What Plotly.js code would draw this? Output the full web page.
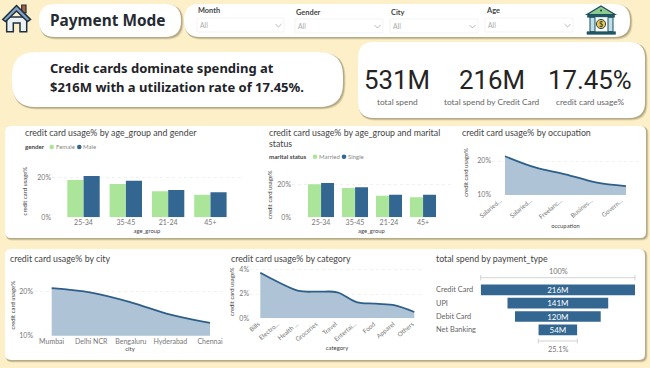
<!DOCTYPE html>
<html><head><meta charset="utf-8">
<script src="https://cdn.plot.ly/plotly-3.0.1.min.js"></script>
<style>html,body{margin:0;padding:0;background:#FDF0C9;overflow:hidden}#g{width:650px;height:368px}</style>
</head><body><div id="g"></div>
<script>
// ---- data ----
const ageGroups = ["25-34","35-45","21-24","45+"];
const genderFemale = [18.8,16.8,13.1,11.4];
const genderMale = [20.8,18.5,13.8,12.6];
const maritalMarried = [20.0,17.8,13.1,12.1];
const maritalSingle = [20.8,18.2,13.7,13.7];
const occupations = ["Salaried IT Employees","Salaried Other Employees","Freelancers","Business Owners","Government Employees"];
const occupationLabels = ["Salaried...","Salaried...","Freelanc...","Busines...","Govern..."];
const occupationUsage = [21.4,18.1,16.1,13.7,12.6];
const cities = ["Mumbai","Delhi NCR","Bengaluru","Hyderabad","Chennai"];
const cityUsage = [20.8,19.8,17.6,14.8,12.9];
const categories = ["Bills","Electronics","Health","Groceries","Travel","Entertainment","Food","Apparel","Others"];
const categoryLabels = ["Bills","Electro...","Health ...","Groceries","Travel","Entertai...","Food","Apparel","Others"];
const categoryUsage = [3.75,2.93,2.25,2.19,2.14,1.34,1.2,1.07,0.52];
const paymentTypes = ["Credit Card","UPI","Debit Card","Net Banking"];
const paymentSpend = [216,141,120,54];
const funnelPercents = ["100%","25.1%"];
const kpiValues = ["531M","216M","17.45%"];
const kpiLabels = ["total spend","total spend by Credit Card","credit card usage%"];
const slicers = ["Month","Gender","City","Age"];

// ---- style ----
const BLUE="#336791", GREEN="#ABE59A", AREA="#AEC4D6", LINE="#2E5F8A";
const FONT="Lato, sans-serif", BOLD="'Noto Sans', sans-serif", KPI="Roboto, sans-serif";
const W=650,H=368;
const X=x=>x/W, Y=y=>1-y/H;
const shapes=[], ann=[];
const pt=(x,y)=>X(x).toFixed(5)+","+Y(y).toFixed(5);
function pathOf(pts,close=true){return "M"+pts.map(p=>pt(p[0],p[1])).join(" L")+(close?" Z":"");}
function poly(pts,fill,line,lw,close=true){shapes.push({type:"path",xref:"paper",yref:"paper",layer:"below",path:pathOf(pts,close),fillcolor:fill||"rgba(0,0,0,0)",line:{color:line||"rgba(0,0,0,0)",width:lw||0}});}
function rrect(x0,y0,x1,y1,r,fill,line,lw){
  const p=`M${pt(x0+r,y0)} L${pt(x1-r,y0)} Q${pt(x1,y0)} ${pt(x1,y0+r)} L${pt(x1,y1-r)} Q${pt(x1,y1)} ${pt(x1-r,y1)} L${pt(x0+r,y1)} Q${pt(x0,y1)} ${pt(x0,y1-r)} L${pt(x0,y0+r)} Q${pt(x0,y0)} ${pt(x0+r,y0)} Z`;
  shapes.push({type:"path",xref:"paper",yref:"paper",layer:"below",path:p,fillcolor:fill,line:{color:line||"rgba(0,0,0,0)",width:lw||0}});
}
function card(x0,y0,x1,y1,r){
  rrect(x0+1,y0+1,x1+2.5,y1+2.5,r,"rgba(130,120,85,0.22)");
  rrect(x0+.5,y0+.5,x1+1.5,y1+1.5,r,"rgba(130,120,85,0.45)");
  rrect(x0,y0,x1,y1,r,"#FFFFFF");
}
function circle(cx,cy,r,fill,line,lw){shapes.push({type:"circle",xref:"paper",yref:"paper",layer:"below",x0:X(cx-r),x1:X(cx+r),y0:Y(cy+r),y1:Y(cy-r),fillcolor:fill,line:{color:line||"rgba(0,0,0,0)",width:lw||0}});}
function text(x,y,s,size,color,anchor="left",family=FONT,extra={}){ann.push(Object.assign({xref:"paper",yref:"paper",x:X(anchor==="left"?x-1:x),y:Y(y),text:s,showarrow:false,xanchor:anchor,yanchor:"middle",align:anchor,borderpad:0,font:{size,color,family}},extra));}

// ---- cards ----
card(39,4,181,37,16);
card(184,4,630,37,16);
card(12,52,343,107,24);
card(358,42,645,118,16);
card(5,126,646,238,6);
card(5,249,645,360,6);

// ---- home icon ----
poly([[21.7,5],[26,5],[26,13],[21.7,13]],"#A9623F","#22303C",1.2);
poly([[6.7,17],[26.7,17],[26.7,31.7],[20,31.7],[20,23],[13.3,23],[13.3,31.7],[6.7,31.7]],"#EAF2F7","#22303C",1.5);
poly([[16.5,5.5],[30.5,19.5],[27.5,21.5],[16.5,11],[5.5,21.5],[2.8,19.5]],"#7FA6C9","#22303C",1.5);

// ---- bank icon ----
poly([[601,6],[615,14.5],[587,14.5]],"#8CCB8E","#1F4E5A",1.2);
poly([[587.5,14.5],[614.5,14.5],[614.5,17.3],[587.5,17.3]],"#1F5A66","#1F4E5A",.6);
poly([[595,17.3],[608,17.3],[608,31.7],[595,31.7]],"#FFFFFF");
poly([[590,17.3],[595,17.3],[595,31.7],[590,31.7]],"#BFE0EA","#1F4E5A",1);
poly([[608,17.3],[613,17.3],[613,31.7],[608,31.7]],"#BFE0EA","#1F4E5A",1);
poly([[587,31.7],[615.5,31.7],[615.5,34.3],[587,34.3]],"#1F5A66","#1F4E5A",.6);
circle(601,24,4.6,"#F4C542","#1F4E5A",1);
circle(601,10.5,1.1,"#1F4E5A");
text(601,24.3,"<b>$</b>",7,"#1F4E5A","center");

// ---- header text ----
text(50,20,"<b>Payment Mode</b>",15.4,"#262B33","left",BOLD);
text(50,68.5,"<b>Credit cards dominate spending at</b>",13,"#1E2329","left",BOLD);
text(50,87,"<b>$216M with a utilization rate of 17.45%.</b>",13,"#1E2329","left",BOLD);

// ---- slicers ----
const slicerBoxes=[[197,284,18,10],[295,383,19,12],[390,478,19,12],[485,573,18,10]];
slicers.forEach((name,i)=>{
  const [a,b,t,ly]=slicerBoxes[i];
  rrect(a,t,b,t+14,1,"#FFFFFF","#EEEEEE",.7);
  text(a+1,ly,"<b>"+name+"</b>",7.4,"#444444");
  text(a+3,t+7,"All",6.8,"#AAAAAA");
  poly([[b-8.5,t+6],[b-5.5,t+9],[b-2.5,t+6]],null,"#999999",.7,false);
});

// ---- KPIs ----
const kpiX=[397,492,590];
kpiValues.forEach((v,i)=>{
  text(kpiX[i],80,v,25.8,"#252423","center",KPI);
  text(kpiX[i],102,kpiLabels[i],8.3,"#666666","center",FONT);
});

// ---- chart titles ----
const TC="#444444", TS=8.8;
text(25,132,"credit card usage% by age_group and gender",TS,TC);
text(269,132,"credit card usage% by age_group and marital",TS,TC);
text(269,143,"status",TS,TC);
text(462,132,"credit card usage% by occupation",TS,TC);
text(10,258,"credit card usage% by city",TS,TC);
text(231,258,"credit card usage% by category",TS,TC);
text(436,258,"total spend by payment_type",TS,TC);

// ---- bar legends ----
function legend(y,title,tx,items){
  text(tx,y,"<b>"+title+"</b>",6.2,"#444444");
  items.forEach(it=>{circle(it[0],y,2.3,it[2]);text(it[0]+3.8,y,it[1],6,"#888888");});
}
legend(147,"gender",25,[[51.7,"Female",GREEN],[79.3,"Male",BLUE]]);
legend(156.7,"marital status",269,[[315,"Married",GREEN],[344,"Single",BLUE]]);

// ---- axes ----
const tickF={size:7,color:"#777777",family:FONT}, rotF={size:6.3,color:"#777777",family:FONT}, titleF={size:5.9,color:"#444444",family:FONT};
function xAxis(anchor,L,R,bottom,first,last,n,title,standoff,extra){
  const s=(last-first)/(n-1);
  return Object.assign({domain:[X(L),X(R)],anchor,type:"category",range:[-(first-L)/s,n-1+(R-last)/s],
    showgrid:false,zeroline:false,showline:false,ticks:"",tickfont:tickF,automargin:false,
    title:{text:title,font:titleF,standoff}},extra||{});
}
function yAxis(anchor,top,bottom,lo,hi,pxLo,pxHi,ticks,standoff){
  const k=(hi-lo)/(pxLo-pxHi);
  return {domain:[Y(bottom),Y(top)],anchor,range:[lo-(bottom-pxLo)*k,lo+(pxLo-top)*k],tickmode:"array",tickvals:ticks,ticktext:ticks.map(t=>t+"%"),
    showgrid:true,gridcolor:"#F1F1F1",griddash:"dot",gridwidth:1,zeroline:false,showline:false,ticks:"",tickfont:tickF,automargin:false,
    title:{text:"credit card usage%",font:titleF,standoff}};
}
const layout={width:W,height:H,margin:{l:0,r:0,t:0,b:0},paper_bgcolor:"#FDF0C9",plot_bgcolor:"rgba(0,0,0,0)",showlegend:false,
  font:{family:FONT},barmode:"group",bargap:0.23,bargroupgap:0.01,
  xaxis: xAxis("y", 52,242,217.3,83.5,210.4,4,"age_group",3),
  yaxis: yAxis("x", 165,217.3,0,20,217.3,177.7,[0,20],9),
  xaxis2:xAxis("y2",292,451,217.3,321,423,4,"age_group",3),
  yaxis2:yAxis("x2",172,217.3,0,20,217.3,184.3,[0,20],4),
  xaxis3:xAxis("y3",492,639,195,505,626,5,"occupation",4,{tickangle:-40,tickfont:rotF,ticklabelshift:-5,tickmode:"array",tickvals:occupations,ticktext:occupationLabels}),
  yaxis3:yAxis("x3",150,195,10,20,195,161,[10,20],8),
  xaxis4:xAxis("y4",34,226,335.7,51.7,210,5,"city",2),
  yaxis4:yAxis("x4",275,335.7,10,20,335.7,291.7,[10,20],3),
  xaxis5:xAxis("y5",250,424,318.3,260.3,414.3,9,"category",4,{tickangle:-40,tickfont:rotF,ticklabelshift:-2,tickmode:"array",tickvals:categories,ticktext:categoryLabels}),
  yaxis5:yAxis("x5",265,318.3,0,4,318.3,269.7,[0,2,4],4),
  xaxis6:{domain:[X(480.7),X(635)],anchor:"y6",range:[-108,108],visible:false},
  yaxis6:{domain:[Y(336.5),Y(283.2)],anchor:"x6",type:"category",range:[3.5,-0.5],visible:false},
  shapes,annotations:ann};

// ---- funnel furniture ----
poly([[480.7,277.7],[635,277.7]],null,"#C8C8C8",.8,false);
poly([[480.7,275],[480.7,280.5]],null,"#C8C8C8",.8,false);
poly([[635,275],[635,280.5]],null,"#C8C8C8",.8,false);
poly([[538.3,341],[577.3,341]],null,"#C8C8C8",.8,false);
poly([[538.3,338.5],[538.3,343.5]],null,"#C8C8C8",.8,false);
poly([[577.3,338.5],[577.3,343.5]],null,"#C8C8C8",.8,false);
text(558,271,funnelPercents[0],7.4,"#777777","center");
text(558,349,funnelPercents[1],7.4,"#777777","center");
paymentTypes.forEach(p=>ann.push({xref:"paper",yref:"y6",x:X(435),y:p,text:p,showarrow:false,xanchor:"left",yanchor:"middle",borderpad:0,font:{size:7.4,color:"#666666",family:FONT}}));

// ---- traces ----
const bar=(x,y,name,color,xa,ya)=>({type:"bar",x,y,name,marker:{color,line:{width:0}},xaxis:xa,yaxis:ya});
const area=(x,y,xa,ya)=>({type:"scatter",mode:"lines",x,y,xaxis:xa,yaxis:ya,fill:"tozeroy",fillcolor:AREA,line:{color:LINE,width:1.8,shape:"spline"}});
const data=[
  bar(ageGroups,genderFemale,"Female",GREEN,"x","y"),
  bar(ageGroups,genderMale,"Male",BLUE,"x","y"),
  bar(ageGroups,maritalMarried,"Married",GREEN,"x2","y2"),
  bar(ageGroups,maritalSingle,"Single",BLUE,"x2","y2"),
  area(occupations,occupationUsage,"x3","y3"),
  area(cities,cityUsage,"x4","y4"),
  area(categories,categoryUsage,"x5","y5"),
  {type:"funnel",orientation:"h",y:paymentTypes,x:paymentSpend,xaxis:"x6",yaxis:"y6",texttemplate:"%{x}M",textposition:"inside",insidetextanchor:"middle",constraintext:"none",
   textfont:{size:8,color:"#FFFFFF",family:FONT},marker:{color:BLUE,line:{width:0}},connector:{visible:false}}
];
Plotly.newPlot("g",data,layout,{displayModeBar:false,staticPlot:true});
</script></body></html>
